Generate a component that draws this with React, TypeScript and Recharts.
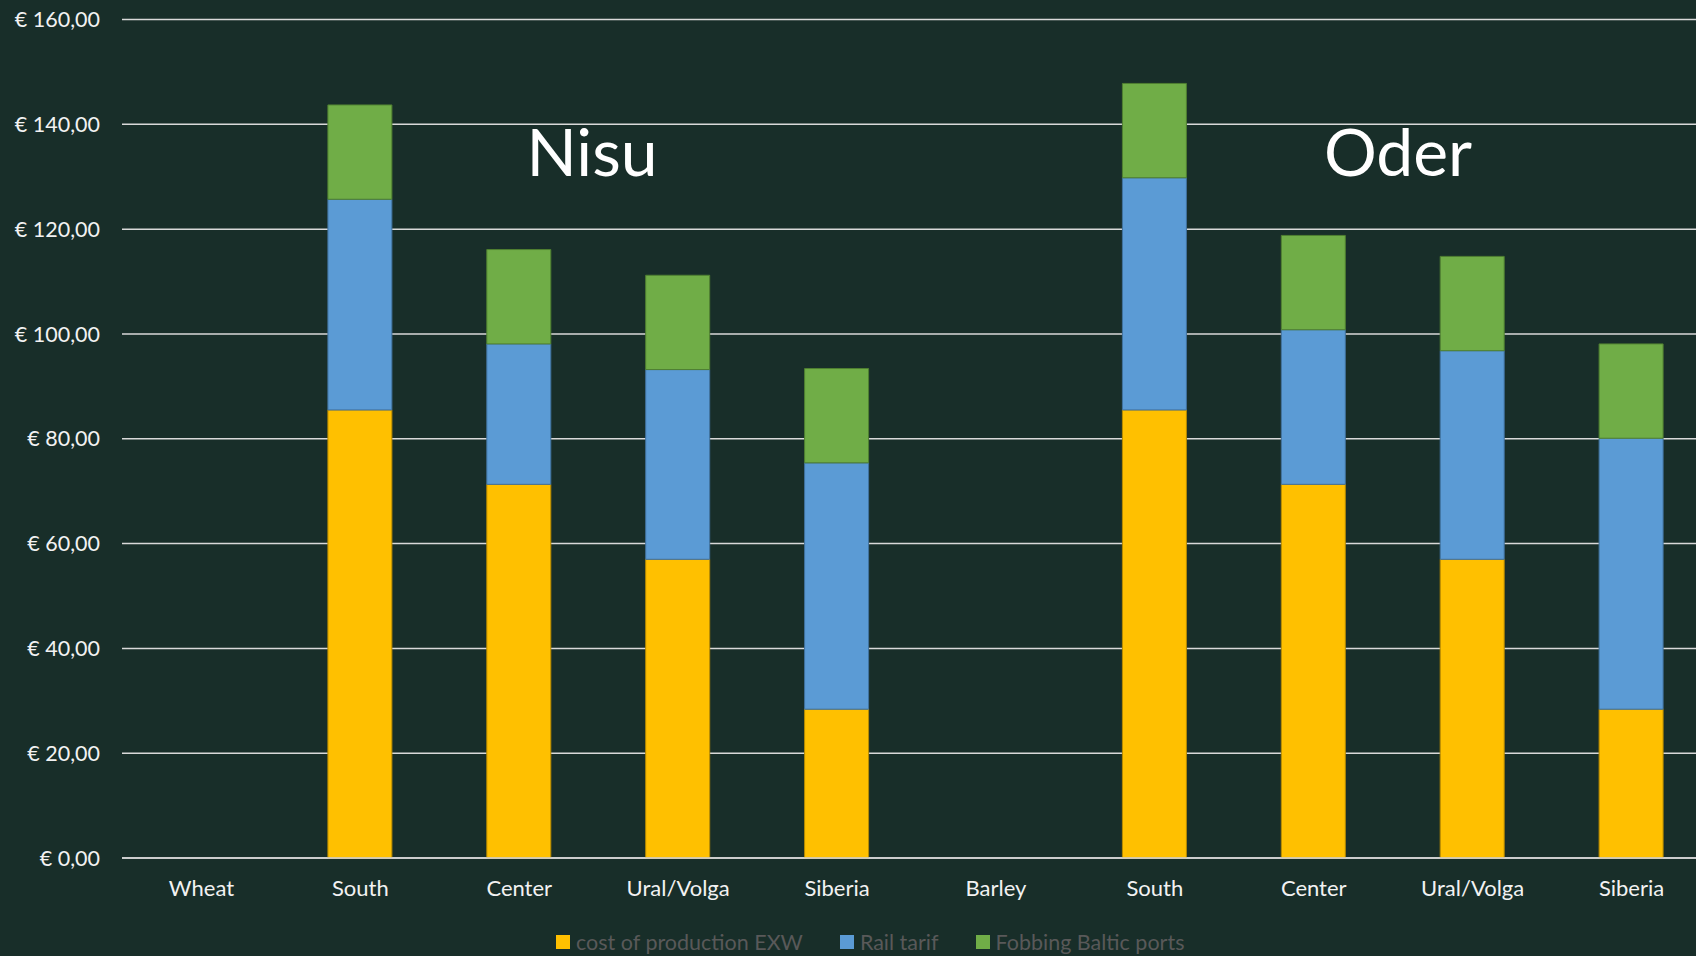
import React from 'react';
import { BarChart, Bar, XAxis, YAxis, CartesianGrid } from 'recharts';

const categories = ['Wheat', 'South', 'Center', 'Ural/Volga', 'Siberia', 'Barley', 'South', 'Center', 'Ural/Volga', 'Siberia'];
const productionCost = [null, 85.5, 71.3, 57.0, 28.4, null, 85.5, 71.3, 57.0, 28.4];
const railTarif = [null, 40.2, 26.8, 36.2, 47.0, null, 44.3, 29.5, 39.8, 51.7];
const fobbingBaltic = [null, 18.0, 18.0, 18.0, 18.0, null, 18.0, 18.0, 18.0, 18.0];
const yTicks = [0, 20, 40, 60, 80, 100, 120, 140, 160];

const seriesNames = ['cost of production EXW', 'Rail tarif', 'Fobbing Baltic ports'];
const seriesColors = ['#FFC000', '#5B9BD5', '#70AD47'];
const seriesStrokes = ['#b88a00', '#41729e', '#4f7f31'];

const data = categories.map((name, i) => ({
  idx: i,
  name,
  production: productionCost[i],
  rail: railTarif[i],
  fob: fobbingBaltic[i],
}));

const FONT = 'Lato, "Open Sans", sans-serif';
const BG = '#182e29';

const euro = (v: number) => `€ ${v.toFixed(2).replace('.', ',')}`;

const App: React.FC = () => {
  return (
    <div
      style={{
        position: 'fixed',
        left: 0,
        top: 0,
        width: 1696,
        height: 956,
        overflow: 'hidden',
        background: BG,
        fontFamily: FONT,
      }}
    >
      <BarChart
        width={1720}
        height={956}
        data={data}
        barSize={64}
        margin={{ top: 19.5, right: 9, left: 12, bottom: 58 }}
      >
        <CartesianGrid vertical={false} stroke="#d9d9d9" strokeWidth={1.5} />
        <XAxis
          dataKey="idx"
          type="category"
          tickFormatter={(i: number) => categories[i]}
          axisLine={{ stroke: '#d9d9d9', strokeWidth: 1.5 }}
          tickLine={false}
          tickSize={0}
          tickMargin={22}
          height={40}
          tick={{ fill: '#f2f2f2', fontSize: 22, fontFamily: FONT }}
        />
        <YAxis
          domain={[0, 160]}
          ticks={yTicks}
          width={110}
          axisLine={false}
          tickLine={false}
          tickSize={0}
          tickMargin={22}
          tickFormatter={euro}
          tick={{ fill: '#f2f2f2', fontSize: 21.5, fontFamily: FONT }}
        />
        <Bar dataKey="production" stackId="a" fill={seriesColors[0]} stroke={seriesStrokes[0]} strokeWidth={1} isAnimationActive={false} />
        <Bar dataKey="rail" stackId="a" fill={seriesColors[1]} stroke={seriesStrokes[1]} strokeWidth={1} isAnimationActive={false} />
        <Bar dataKey="fob" stackId="a" fill={seriesColors[2]} stroke={seriesStrokes[2]} strokeWidth={1} isAnimationActive={false} />
      </BarChart>

      {/* group annotations */}
      <div style={{ position: 'absolute', left: 592, top: 151, transform: 'translate(-50%, -50%)', color: '#fff', fontSize: 66, lineHeight: 1 }}>
        Nisu
      </div>
      <div style={{ position: 'absolute', left: 1398, top: 151, transform: 'translate(-50%, -50%)', color: '#fff', fontSize: 66, lineHeight: 1 }}>
        Oder
      </div>

      {/* legend */}
      <div
        style={{
          position: 'absolute',
          left: 556,
          top: 929,
          display: 'flex',
          alignItems: 'center',
          fontSize: 21.5,
          lineHeight: '26px',
          color: '#595959',
        }}
      >
        {seriesNames.map((n, i) => (
          <div key={n} style={{ display: 'flex', alignItems: 'center', marginRight: i < 2 ? 37 : 0 }}>
            <span style={{ width: 14, height: 14, background: seriesColors[i], marginRight: 6, display: 'inline-block' }} />
            <span>{n}</span>
          </div>
        ))}
      </div>
    </div>
  );
};

export default App;
